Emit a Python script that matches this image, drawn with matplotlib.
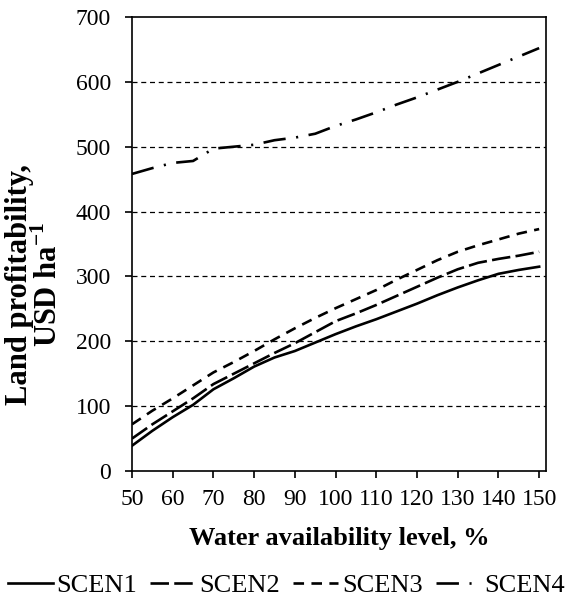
import matplotlib
matplotlib.use('Agg')
import matplotlib.pyplot as plt

plt.rcParams['font.family'] = ['Liberation Serif', 'DejaVu Serif']
plt.rcParams['mathtext.fontset'] = 'custom'
plt.rcParams['mathtext.rm'] = 'Liberation Serif'
plt.rcParams['mathtext.bf'] = 'Liberation Serif:bold'

water = [50, 55, 60, 65, 70, 75, 80, 85, 90, 95, 100, 105, 110, 115, 120, 125, 130, 135, 140, 145, 150]
scen1 = [39, 62, 83, 102, 126, 143, 161, 175, 185, 198, 211, 223, 234, 246, 258, 271, 283, 294, 304, 310, 315]
scen2 = [50, 72, 92, 112, 134, 150, 166, 182, 197, 214, 231, 243, 256, 270, 284, 298, 311, 321, 327, 332, 338]
scen3 = [72, 93, 112, 132, 152, 168, 185, 203, 220, 236, 251, 265, 279, 295, 310, 325, 338, 348, 357, 366, 373]
scen4 = [458, 467, 475, 478, 497, 500, 503, 510, 514, 520, 532, 542, 553, 565, 576, 588, 600, 613, 626, 639, 652]
labels = ['SCEN1', 'SCEN2', 'SCEN3', 'SCEN4']

fig = plt.figure(figsize=(5.73, 6.0), dpi=100)
ax = fig.add_axes([0.2304, 0.215, 0.7226, 0.7567])

lw = 1.9
ax.plot(water, scen1, color='black', lw=lw, linestyle='-', label=labels[0])
ax.plot(water, scen2, color='black', lw=lw, linestyle=(0, (7, 2)), label=labels[1])
ax.plot(water, scen3, color='black', lw=lw, linestyle=(0, (4, 2.8)), label=labels[2])
ax.plot(water, scen4, color='black', lw=lw, linestyle=(0, (8.5, 4, 0.8, 4)), label=labels[3])

ax.set_xlim(50, 151.7)
ax.set_ylim(0, 700)
ax.set_xticks(range(50, 151, 10))
ax.set_yticks(range(0, 701, 100))
for y in range(100, 700, 100):
    ax.axhline(y, color='black', lw=0.9, linestyle=(0, (4, 3)), zorder=0)

for s in ax.spines.values():
    s.set_linewidth(1.2)
ax.tick_params(axis='both', labelsize=17, direction='out', length=5, width=1.2)
ax.tick_params(axis='x', pad=8)
ax.tick_params(axis='y', pad=10)

ax.set_xlabel('Water availability level, %', fontsize=19, fontweight='bold')
ax.xaxis.set_label_coords(0.5, -0.124)
ax.set_ylabel('Land profitability,\nUSD ha$^{\\mathbf{-1}}$', fontsize=22, fontweight='bold',
              linespacing=1.0)
ax.yaxis.set_label_coords(-0.164, 0.41)

fig.legend(loc='center', bbox_to_anchor=(0.5, 0.025), ncol=4, frameon=False,
           fontsize=19, handlelength=1.7, handletextpad=0.15, columnspacing=0.5,
           borderaxespad=0, borderpad=0)

fig.savefig('out.png', dpi=100)
